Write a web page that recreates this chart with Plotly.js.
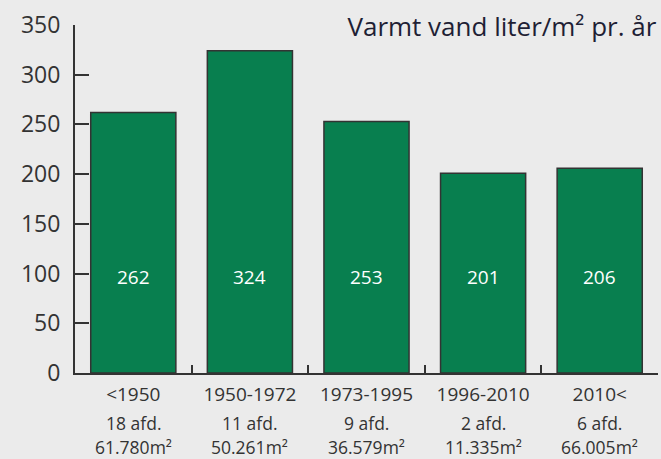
<!DOCTYPE html>
<html>
<head>
<meta charset="utf-8">
<script src="https://cdn.plot.ly/plotly-3.0.1.min.js"></script>
<style>html,body{margin:0;padding:0;background:#ebebeb;}#chart{width:661px;height:459px;}</style>
</head>
<body>
<div id="chart"></div>
<script>
const categories = ["<1950", "1950-1972", "1973-1995", "1996-2010", "2010<"];
const values = [262, 324, 253, 201, 206];
const afdLabels = ["18 afd.", "11 afd.", "9 afd.", "2 afd.", "6 afd."];
const areaLabels = ["61.780m²", "50.261m²", "36.579m²", "11.335m²", "66.005m²"];
const titleText = "Varmt vand liter/m² pr. år";

const FONT = "'Open Sans', Lato, sans-serif";
const labelY = 97;

const annotations = [];
categories.forEach((c, i) => {
  annotations.push({x: c, y: labelY, xref: "x", yref: "y", text: String(values[i]),
    showarrow: false, font: {family: FONT, size: 19, color: "#ffffff"}, yanchor: "middle"});
  annotations.push({x: c, y: -0.143, xref: "x", yref: "paper", text: afdLabels[i], borderpad: 0,
    showarrow: false, font: {family: FONT, size: 17.5, color: "#333333"}, yanchor: "middle"});
  annotations.push({x: c, y: -0.212, xref: "x", yref: "paper", text: areaLabels[i], borderpad: 0,
    showarrow: false, font: {family: FONT, size: 17.5, color: "#333333"}, yanchor: "middle"});
});

const trace = {
  type: "bar",
  x: categories,
  y: values,
  marker: {color: "#087f4f", line: {color: "#333333", width: 1.5}},
  hoverinfo: "none"
};

const layout = {
  width: 661, height: 459,
  margin: {l: 75, r: 3, t: 25, b: 86},
  paper_bgcolor: "#ebebeb",
  plot_bgcolor: "#ebebeb",
  showlegend: false,
  bargap: 0.27,
  title: {text: titleText, x: 0.993, xanchor: "right", xref: "container", y: 0.942, yanchor: "middle",
    font: {family: FONT, size: 26, color: "#1f1f35"}},
  xaxis: {
    type: "category",
    tickson: "boundaries",
    ticks: "inside", ticklen: 8, tickwidth: 2, tickcolor: "#333333",
    showline: true, linecolor: "#333333", linewidth: 2,
    showgrid: false, zeroline: false,
    tickfont: {family: FONT, size: 19, color: "#333333"},
    ticklabelstandoff: 3
  },
  yaxis: {
    range: [0, 350],
    dtick: 50,
    ticks: "inside", ticklen: 14, tickwidth: 2, tickcolor: "#333333",
    showline: true, linecolor: "#333333", linewidth: 2,
    showgrid: false, zeroline: false,
    tickfont: {family: FONT, size: 23, color: "#333333"},
    ticklabelstandoff: 8
  },
  annotations: annotations
};

Plotly.newPlot("chart", [trace], layout, {displayModeBar: false, staticPlot: true});
</script>
</body>
</html>
